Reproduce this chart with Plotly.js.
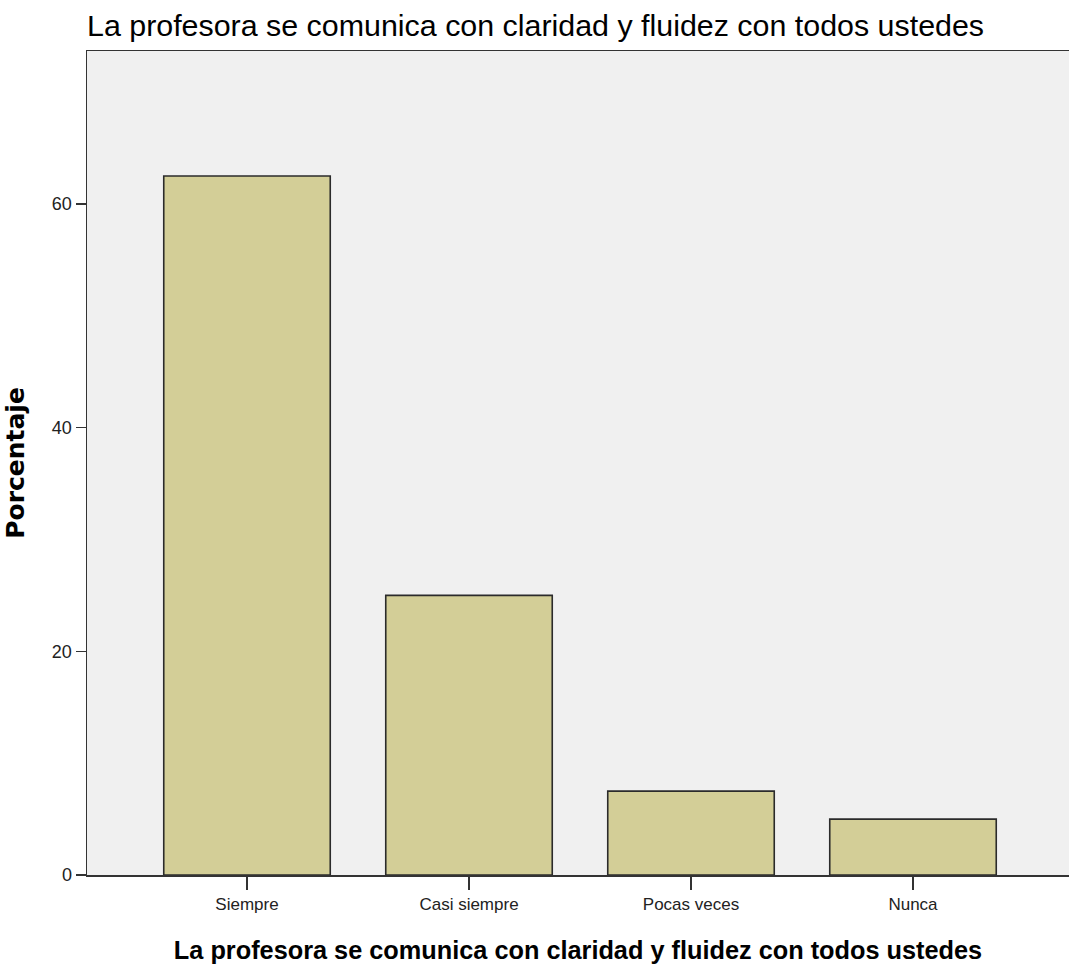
<!DOCTYPE html>
<html>
<head>
<meta charset="utf-8">
<script src="https://cdn.plot.ly/plotly-3.0.1.min.js"></script>
<style>html,body{margin:0;padding:0;background:#fff;}#chart{width:1069px;height:967px;}</style>
</head>
<body>
<div id="chart"></div>
<script>
const categories = ["Siempre", "Casi siempre", "Pocas veces", "Nunca"];
const percentages = [62.5, 25.0, 7.5, 5.0];
const yTickValues = [0, 20, 40, 60];
const chartTitle = "La profesora se comunica con claridad y fluidez con todos ustedes";
const xTitle = "La profesora se comunica con claridad y fluidez con todos ustedes";
const yTitle = "Porcentaje";

const trace = {
  type: "bar",
  x: categories,
  y: percentages,
  width: 0.75,
  marker: { color: "#d3ce97", line: { color: "#2b2b2b", width: 1.6 } },
  hoverinfo: "x+y"
};

const layout = {
  width: 1069,
  height: 967,
  margin: { l: 87, r: 0, t: 51, b: 92, pad: 0 },
  paper_bgcolor: "#ffffff",
  plot_bgcolor: "#f0f0f0",
  showlegend: false,
  title: {
    text: chartTitle,
    x: 87 / 1069, xref: "container", xanchor: "left",
    y: 1 - 25 / 967, yref: "container", yanchor: "middle",
    font: { family: "Liberation Sans, Arial, sans-serif", size: 30.4, color: "#000" }
  },
  xaxis: {
    type: "category",
    range: [-0.7207, 3.7027],
    showline: true, linecolor: "#333", linewidth: 1.5, mirror: true,
    ticks: "outside", ticklen: 13, tickcolor: "#333", tickwidth: 1.5,
    showgrid: false, zeroline: false,
    tickfont: { family: "Liberation Sans, Arial, sans-serif", size: 17, color: "#222" },
    automargin: false,
    title: {
      text: xTitle, standoff: 28,
      font: { family: "Liberation Sans, Arial, sans-serif", size: 25.3, color: "#000", weight: "bold" }
    }
  },
  yaxis: {
    range: [0, 73.68],
    tickvals: yTickValues,
    showline: true, linecolor: "#333", linewidth: 1.5,
    ticks: "outside", ticklen: 10, tickcolor: "#333", tickwidth: 1.5,
    showgrid: false, zeroline: false,
    tickfont: { family: "Liberation Sans, Arial, sans-serif", size: 18, color: "#222" },
    automargin: false,
    title: {
      text: yTitle, standoff: 20,
      font: { family: "DejaVu Sans, sans-serif", size: 25, color: "#000", weight: "bold" }
    }
  }
};

Plotly.newPlot("chart", [trace], layout, { displayModeBar: false, staticPlot: true });
</script>
</body>
</html>
